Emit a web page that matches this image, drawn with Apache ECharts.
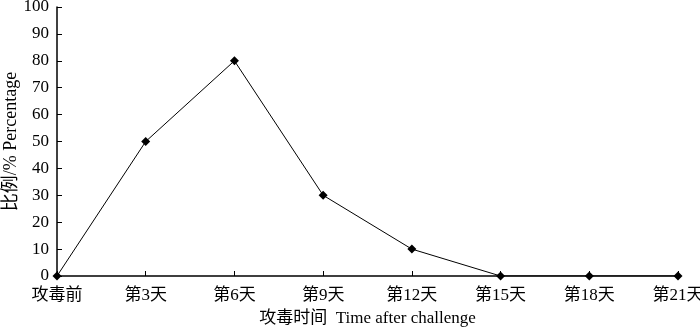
<!DOCTYPE html>
<html><head><meta charset="utf-8">
<script src="https://cdn.jsdelivr.net/npm/echarts@6/dist/echarts.min.js"></script>
<style>html,body{margin:0;padding:0;background:#fff}#c{width:700px;height:327px}</style>
</head><body><div id="c"></div>
<script>
var categories = ['攻毒前','第3天','第6天','第9天','第12天','第15天','第18天','第21天'];
var values = [0, 50, 80, 30, 10, 0, 0, 0];
var yTicks = {min: 0, max: 100, interval: 10};
var FONT = '"Liberation Serif","Noto Sans CJK SC",serif';
var chart = echarts.init(document.getElementById('c'));
chart.setOption({
  animation: false,
  grid: {left: 57, right: 22, top: 7, bottom: 51, containLabel: false, outerBoundsMode: 'none'},
  xAxis: {
    type: 'category', data: categories, boundaryGap: false,
    name: '攻毒时间  Time after challenge', nameLocation: 'middle', nameGap: 34, nameMoveOverlap: false,
    nameTextStyle: {fontFamily: FONT, fontSize: 17, color: '#000'},
    axisLine: {lineStyle: {color: '#000', width: 1.5}},
    axisTick: {inside: true, length: 5, alignWithLabel: true, lineStyle: {color: '#000'}},
    axisLabel: {fontFamily: FONT, fontSize: 17, color: '#000', margin: 11, interval: 0},
    splitLine: {show: false}
  },
  yAxis: {
    type: 'value', min: yTicks.min, max: yTicks.max, interval: yTicks.interval,
    name: '比例/% Percentage', nameLocation: 'middle', nameGap: 37, nameMoveOverlap: false,
    nameTextStyle: {fontFamily: FONT, fontSize: 18, color: '#000'},
    axisLine: {show: true, lineStyle: {color: '#000', width: 1.5}},
    axisTick: {show: true, inside: true, length: 5, lineStyle: {color: '#000'}},
    axisLabel: {fontFamily: FONT, fontSize: 17, color: '#000', margin: 8},
    splitLine: {show: false}
  },
  series: [{
    type: 'line', data: values,
    symbol: 'diamond', symbolSize: 9,
    lineStyle: {color: '#000', width: 1},
    itemStyle: {color: '#000'}
  }]
});
</script></body></html>
